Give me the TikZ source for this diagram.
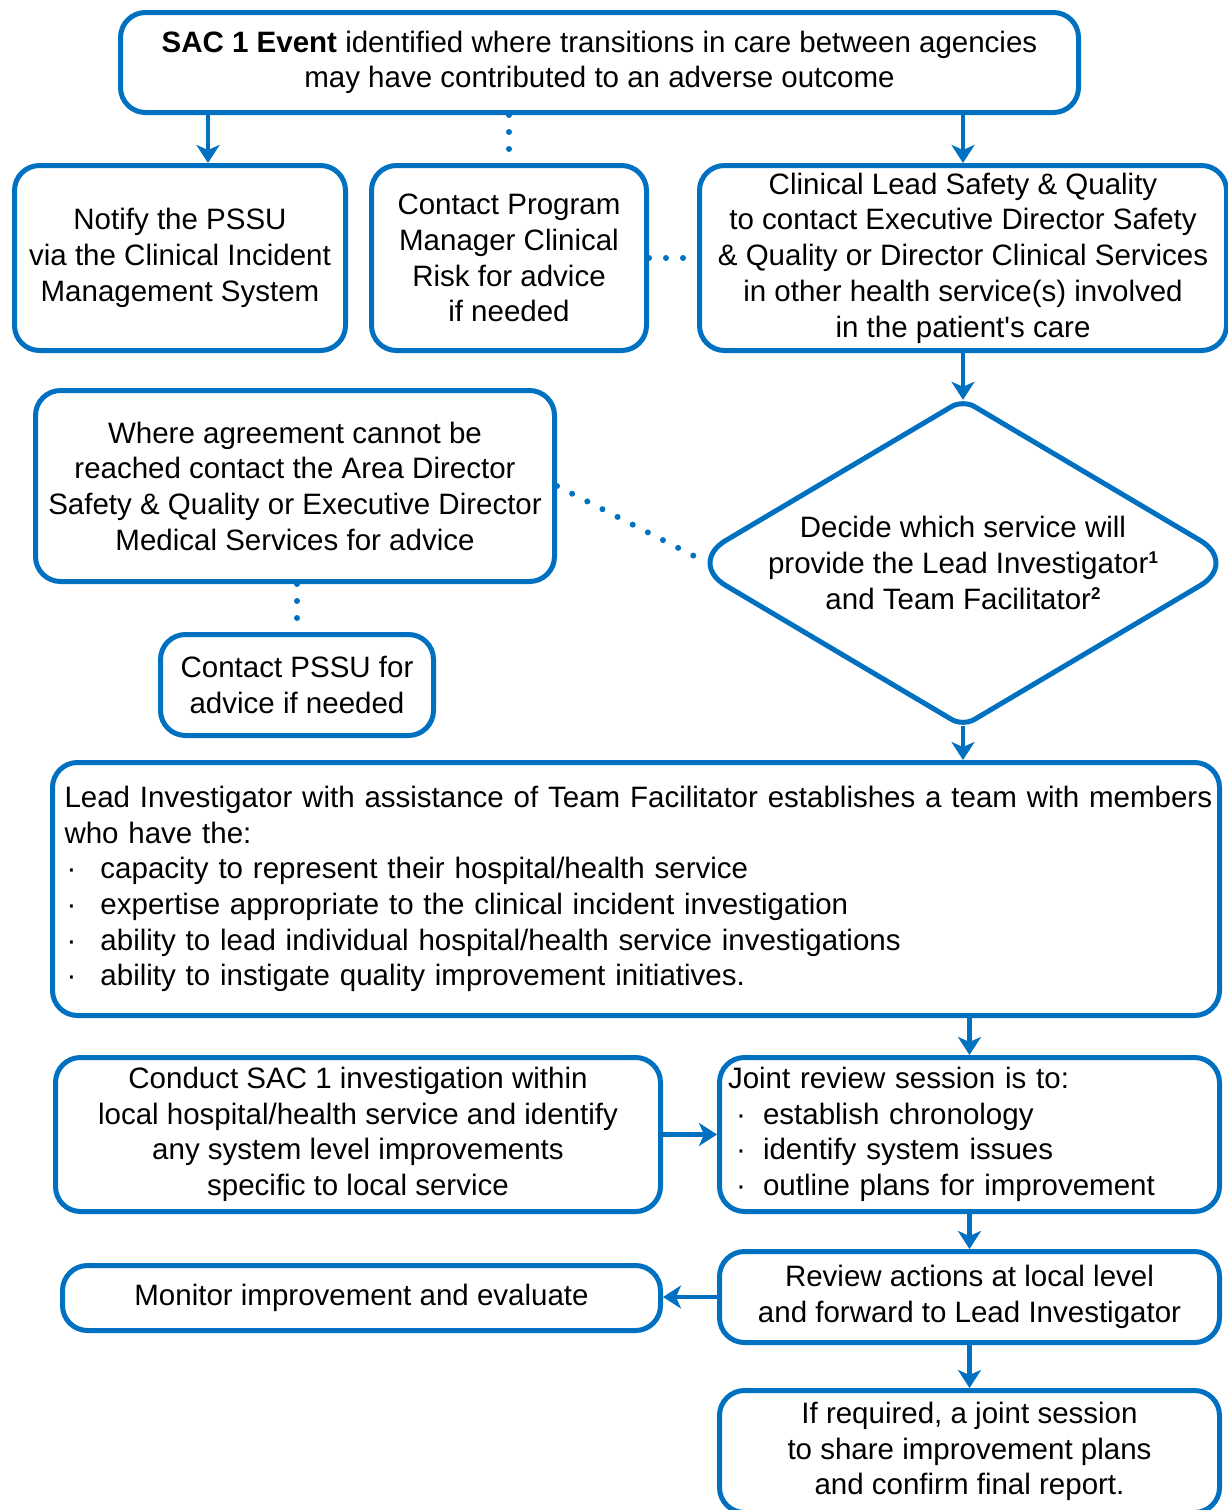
\documentclass[tikz,border=0pt]{standalone}
\usepackage{fontspec}
\setmainfont{Liberation Sans}
\usetikzlibrary{arrows.meta,shapes.geometric,calc}
\definecolor{bl}{HTML}{0070C0}
\tikzset{
  box/.style={draw=bl, line width=5pt, rounded corners=25pt, inner sep=0pt, align=center,
    font=\fontsize{29.5pt}{35.7pt}\selectfont, text=black},
  arr/.style={draw=bl, line width=4.5pt, -{Stealth[length=18pt,width=23pt,inset=5pt]}},
  dots/.style={draw=bl, line width=6pt, line cap=round, dash pattern=on 0pt off 17pt},
  outline/.style={draw=bl, line width=5pt, line join=round},
}
\newcommand{\bull}[2]{\makebox[#2][l]{\hspace{#1}·}}
\newcommand{\supr}[1]{\raisebox{10pt}{\fontsize{17pt}{17pt}\selectfont\bfseries #1}}
\begin{document}
\begin{tikzpicture}[x=1pt,y=-1pt]
\fill[white] (0,0) rectangle (1227,1510);
\useasboundingbox (0,0) rectangle (1227,1510);

\node[box, minimum width=958pt, minimum height=100pt] (top) at (599.5,62.5)
  {\textbf{SAC 1 Event} identified where transitions in care between agencies\\may have contributed to an adverse outcome};
\node[box, minimum width=331pt, minimum height=185pt] (notify) at (180,258)
  {Notify the PSSU\\via the Clinical Incident\\Management System};
\node[box, minimum width=275pt, minimum height=185pt] (prog) at (509,258)
  {Contact Program\\Manager Clinical\\Risk for advice\\if needed};
\node[box, minimum width=527pt, minimum height=185pt] (clin) at (963,258)
  {Clinical Lead Safety \& Quality\\to contact Executive Director Safety\\\& Quality or Director Clinical Services\\in other health service(s) involved\\in the patient\textquotesingle s care};

\node[shape=diamond, draw=none, inner sep=0pt, minimum width=550pt, minimum height=326pt] (dec) at (963,563) {};
\node[align=center, inner sep=0pt, font=\fontsize{29.5pt}{35.7pt}\selectfont] (dect) at (dec.center)
  {Decide which service will\\provide the Lead Investigator\supr{1}\\and Team Facilitator\supr{2}};
\coordinate (wn) at ($(dec.west)!44pt!(dec.north)$);
\coordinate (ws) at ($(dec.west)!44pt!(dec.south)$);
\coordinate (en) at ($(dec.east)!44pt!(dec.north)$);
\coordinate (es) at ($(dec.east)!44pt!(dec.south)$);
\coordinate (nw) at ($(dec.north)!13pt!(dec.west)$);
\coordinate (ne) at ($(dec.north)!13pt!(dec.east)$);
\coordinate (sw) at ($(dec.south)!13pt!(dec.west)$);
\coordinate (se) at ($(dec.south)!13pt!(dec.east)$);
\draw[outline]
  (wn) -- (nw)
  .. controls ($(nw)!0.55!(dec.north)$) and ($(ne)!0.55!(dec.north)$) .. (ne)
  -- (en)
  .. controls ($(en)!0.55!(dec.east)$) and ($(es)!0.55!(dec.east)$) .. (es)
  -- (se)
  .. controls ($(se)!0.55!(dec.south)$) and ($(sw)!0.55!(dec.south)$) .. (sw)
  -- (ws)
  .. controls ($(ws)!0.55!(dec.west)$) and ($(wn)!0.55!(dec.west)$) .. (wn);

\node[box, minimum width=519pt, minimum height=191pt] (where) at (295,486)
  {Where agreement cannot be\\reached contact the Area Director\\Safety \& Quality or Executive Director\\Medical Services for advice};
\node[box, minimum width=273pt, minimum height=101pt] (pssu) at (297,685)
  {Contact PSSU for\\advice if needed};

\node[box, minimum width=1167pt, minimum height=253pt, text width=1143pt, align=left] (lead) at (636,889)
  {\mbox{Lead Investigator with assistance of Team Facilitator establishes a team with members}\\
   who have the:\\
   \bull{2pt}{36pt}capacity to represent their hospital/health service\\
   \bull{2pt}{36pt}expertise appropriate to the clinical incident investigation\\
   \bull{2pt}{36pt}ability to lead individual hospital/health service investigations\\
   \bull{2pt}{36pt}ability to instigate quality improvement initiatives.};

\node[box, minimum width=605pt, minimum height=154pt] (conduct) at (358,1134.5)
  {Conduct SAC 1 investigation within\\local hospital/health service and identify\\any system level improvements\\specific to local service};
\node[box, minimum width=500pt, minimum height=154pt, text width=483pt, align=left] (joint) at (969.5,1134.5)
  {Joint review session is to:\\
   \bull{8pt}{35pt}establish chronology\\
   \bull{8pt}{35pt}identify system issues\\
   \bull{8pt}{35pt}outline plans for improvement};

\node[box, minimum width=598pt, minimum height=65pt] (monitor) at (361.5,1298)
  {Monitor improvement and evaluate};
\node[box, minimum width=500pt, minimum height=91pt] (review) at (969.5,1297)
  {Review actions at local level\\and forward to Lead Investigator};
\node[box, minimum width=500pt, minimum height=122pt] (ifreq) at (969.5,1451.5)
  {If required, a joint session\\to share improvement plans\\and confirm final report.};

% connectors
\coordinate (na) at (208,0);
\draw[arr] (top.south -| na) -- (notify.north -| na);
\draw[dots] (top.south -| prog.north) -- (prog.north);
\draw[arr] (top.south -| clin.north) -- (clin.north);
\draw[dots] (prog.east) -- (clin.west);
\draw[arr] (clin.south) -- (dec.north);
\draw[dots] (where.east) -- ([xshift=20pt]dec.west);
\draw[dots] (where.south -| pssu.north) -- (pssu.north);
\draw[arr] (dec.south) -- (dec.south |- lead.north);
\draw[arr] (lead.south -| joint.north) -- (joint.north);
\draw[arr] (conduct.east) -- (conduct.east -| joint.west);
\draw[arr] (joint.south) -- (review.north);
\draw[arr] (review.west) -- (review.west -| monitor.east);
\draw[arr] (review.south) -- (ifreq.north);
\end{tikzpicture}
\end{document}
